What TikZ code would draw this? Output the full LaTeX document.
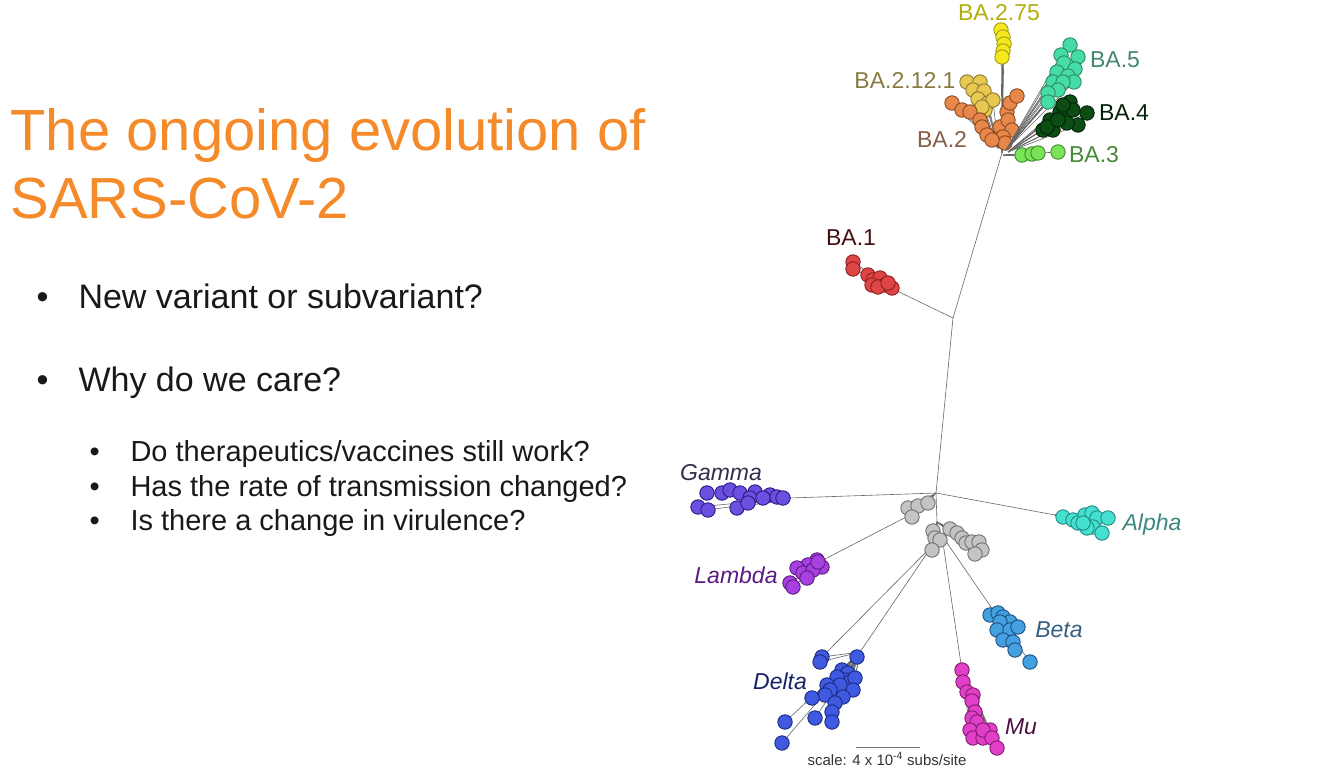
\documentclass[tikz,border=0pt]{standalone}
\usepackage{fontspec}
\setmainfont{Liberation Sans}
\usetikzlibrary{positioning}

% colours
\definecolor{titleorange}{HTML}{F58A2A}
\definecolor{yelA}{HTML}{F5E81E}  \definecolor{yelB}{HTML}{A09A10}
\definecolor{ochA}{HTML}{E8C850}  \definecolor{ochB}{HTML}{8A7A30}
\definecolor{oraA}{HTML}{E8874A}  \definecolor{oraB}{HTML}{8A4A20}
\definecolor{mntA}{HTML}{45DCA8}  \definecolor{mntB}{HTML}{2A8A60}
\definecolor{dgrA}{HTML}{0B4D12}  \definecolor{dgrB}{HTML}{03200A}
\definecolor{lgrA}{HTML}{7AE356}  \definecolor{lgrB}{HTML}{3A8A2A}
\definecolor{redA}{HTML}{E04545}  \definecolor{redB}{HTML}{8A2020}
\definecolor{gamA}{HTML}{6B4FE0}  \definecolor{gamB}{HTML}{2A1A80}
\definecolor{lamA}{HTML}{A83FE0}  \definecolor{lamB}{HTML}{5A1A80}
\definecolor{alpA}{HTML}{45E0D0}  \definecolor{alpB}{HTML}{208A80}
\definecolor{betA}{HTML}{45A0E0}  \definecolor{betB}{HTML}{1A5080}
\definecolor{delA}{HTML}{3F5AE0}  \definecolor{delB}{HTML}{1A2A80}
\definecolor{muA}{HTML}{E03FC8}   \definecolor{muB}{HTML}{801A70}
\definecolor{gryA}{HTML}{C4C4C4}  \definecolor{gryB}{HTML}{707070}

\tikzset{
  branch/.style = {draw=black!60, line width=0.6pt},
  tipdot/.style = {line width=0.9pt},
  clade/.style = {font=\fontsize{23}{23}\selectfont},
  cladeit/.style = {font=\fontsize{23}{23}\selectfont\itshape},
  headline/.style = {anchor=base west, text=titleorange, font=\fontsize{58}{58}\selectfont},
  bulletline/.style = {anchor=base west, text=black!90, font=\fontsize{34}{34}\selectfont},
  subline/.style = {anchor=base west, text=black!90, font=\fontsize{29}{29}\selectfont}
}

% fan of tips: base, fill, border, list x/y
\newcommand{\drawclade}[4]{%
  \foreach \x/\y in {#4} \draw[branch] (#1) -- (\x,\y);
  \foreach \x/\y in {#4} \draw[fill=#2, draw=#3, tipdot] (\x,\y) circle (7.2);
}

\begin{document}
\begin{tikzpicture}[x=1pt, y=-1pt]

  \useasboundingbox (0,0) rectangle (1334,768);

  % Title and bullets
  \node[headline] (title1) at (7,150) {The ongoing evolution of};
  \node[headline] (title2) at (7,218) {SARS-CoV-2};

  \node[bulletline] (b1) at (33,308) {\textbullet};
  \node[bulletline] (t1) at (75,308) {New variant or subvariant?};
  \node[bulletline] (b2) at (33,391) {\textbullet};
  \node[bulletline] (t2) at (75,391) {Why do we care?};

  \node[subline] (s1b) at (86,461) {\textbullet};
  \node[subline] (s1) at (127,461) {Do therapeutics/vaccines still work?};
  \node[subline] (s2b) at (86,496) {\textbullet};
  \node[subline] (s2) at (127,496) {Has the rate of transmission changed?};
  \node[subline] (s3b) at (86,530) {\textbullet};
  \node[subline] (s3) at (127,530) {Is there a change in virulence?};

  % Junctions
  \coordinate (top) at (1002,153);
  \coordinate (jba1) at (953,318);
  \coordinate (jmid) at (936,493);
  \coordinate (jlow) at (937,522);
  \coordinate (grayup) at (912,514);
  \coordinate (gbase) at (790,498);
  \coordinate (lbase) at (825,559);
  \coordinate (abase) at (1055,515);
  \coordinate (broot) at (945,540);
  \coordinate (bbase) at (993,610);
  \coordinate (mroot) at (943,543);
  \coordinate (mbase) at (961,664);
  \coordinate (droot) at (932,546);
  \coordinate (dbase) at (860,652);
  \coordinate (ba1base) at (895,290);

  % Backbone
  \draw[branch] (top) -- (jba1) -- (jmid) -- (jlow);
  \draw[branch] (jba1) -- (ba1base);
  \draw[branch] (jmid) -- (gbase);
  \draw[branch] (jmid) -- (abase);
  \draw[branch] (grayup) -- (lbase);
  \draw[branch] (broot) -- (bbase);
  \draw[branch] (mroot) -- (mbase);
  \draw[branch] (droot) -- (dbase);
  \draw[branch] (droot) -- (822,657);

  % Omicron group
  \drawclade{top}{yelA}{yelB}{1001/30, 1003/37, 1004/44, 1003/51, 1002/57}
  \drawclade{998,148}{ochA}{ochB}{967/82, 980/82, 973/90, 984/91, 978/99, 988/103, 985/110, 993/100, 982/107}
  \drawclade{998,148}{oraA}{oraB}{952/103, 962/110, 970/112, 980/120, 982/127, 987/135, 1000/127, 1007/112, 1010/103, 1017/96, 1008/120, 1012/130, 1003/137, 1005/143, 992/140}
  \drawclade{1006,150}{mntA}{mntB}{1070/45, 1061/55, 1078/57, 1064/63, 1075/69, 1057/72, 1068/76, 1074/82, 1053/82, 1063/82, 1058/90, 1048/93, 1048/102}
  \drawclade{1008,152}{dgrA}{dgrB}{1070/102, 1087/113, 1078/125, 1060/112, 1050/120, 1043/130, 1053/130, 1067/123, 1073/110, 1063/105, 1047/127, 1058/120}
  \drawclade{1003,155}{lgrA}{lgrB}{1022/155, 1032/154, 1038/153, 1058/152}
  \drawclade{ba1base}{redA}{redB}{853/262, 853/269, 868/275, 873/280, 880/278, 885/285, 892/288, 872/285, 878/287, 888/283}

  % Earlier variants
  \drawclade{gbase}{gamA}{gamB}{707/493, 722/493, 730/490, 740/493, 755/492, 770/495, 777/497, 783/498, 750/498, 763/498, 698/507, 708/510, 737/508, 748/503}
  \drawclade{jmid}{gryA}{gryB}{908/508, 918/506, 928/503, 912/517}
  \drawclade{lbase}{lamA}{lamB}{817/560, 808/565, 822/567, 797/568, 803/573, 813/570, 807/578, 790/583, 793/587, 818/562}
  \drawclade{abase}{alpA}{alpB}{1063/517, 1073/520, 1078/523, 1085/515, 1092/513, 1097/518, 1108/518, 1093/527, 1087/528, 1102/533, 1083/523}
  \drawclade{jlow}{gryA}{gryB}{933/531, 935/538, 940/540, 932/550, 950/529, 957/533, 962/538, 966/543, 972/542, 979/542, 982/550, 975/554}
  \drawclade{bbase}{betA}{betB}{990/615, 998/613, 1003/617, 1010/622, 1000/622, 997/630, 1010/630, 1018/627, 1003/640, 1013/642, 1015/650, 1030/662}
  \drawclade{mbase}{muA}{muB}{962/670, 963/682, 967/692, 973/695, 972/701, 975/712, 972/718, 977/722, 970/730, 973/738, 983/738, 990/730, 983/730, 992/738, 997/748}
  \drawclade{dbase}{delA}{delB}{822/657, 820/662, 857/657, 842/670, 848/673, 845/680, 850/682, 855/678, 853/690, 837/677, 840/685, 827/685, 830/690, 825/695, 843/697, 835/703, 832/712, 832/722, 812/698, 815/718, 785/722, 782/743}

  % Labels
  \node[clade, text=yelB!80!yellow] (lba275) at (999,13) {BA.2.75};
  \node[clade, text=ochB!80!gray] (lba2121) at (905,80) {BA.2.12.1};
  \node[clade, text=oraB!60!gray] (lba2) at (942,139) {BA.2};
  \node[clade, text=mntB!70!gray] (lba5) at (1115,60) {BA.5};
  \node[clade, text=dgrB] (lba4) at (1124,113) {BA.4};
  \node[clade, text=lgrB!80!gray] (lba3) at (1094,155) {BA.3};
  \node[clade, text=redB!50!black] (lba1) at (851,238) {BA.1};
  \node[cladeit, text=gamB!50!gray!60!black] (lgam) at (721,473) {Gamma};
  \node[cladeit, text=lamB] (llam) at (736,575) {Lambda};
  \node[cladeit, text=alpB!70!gray] (lalp) at (1152,525) {Alpha};
  \node[cladeit, text=betB!70!gray] (lbet) at (1059,630) {Beta};
  \node[cladeit, text=delB!80!black] (ldel) at (780,681) {Delta};
  \node[cladeit, text=muB!60!black] (lmu) at (1021,727) {Mu};

  % Scale bar
  \coordinate (sbl) at (856,747);
  \coordinate (sbr) at (920,747);
  \draw[black!55, line width=0.8pt] (sbl) -- (sbr);
  \node[font=\fontsize{15}{15}\selectfont, text=black!80] (sbtext) at (887,759) {scale: 4 x 10\textsuperscript{-4} subs/site};

\end{tikzpicture}
\end{document}
